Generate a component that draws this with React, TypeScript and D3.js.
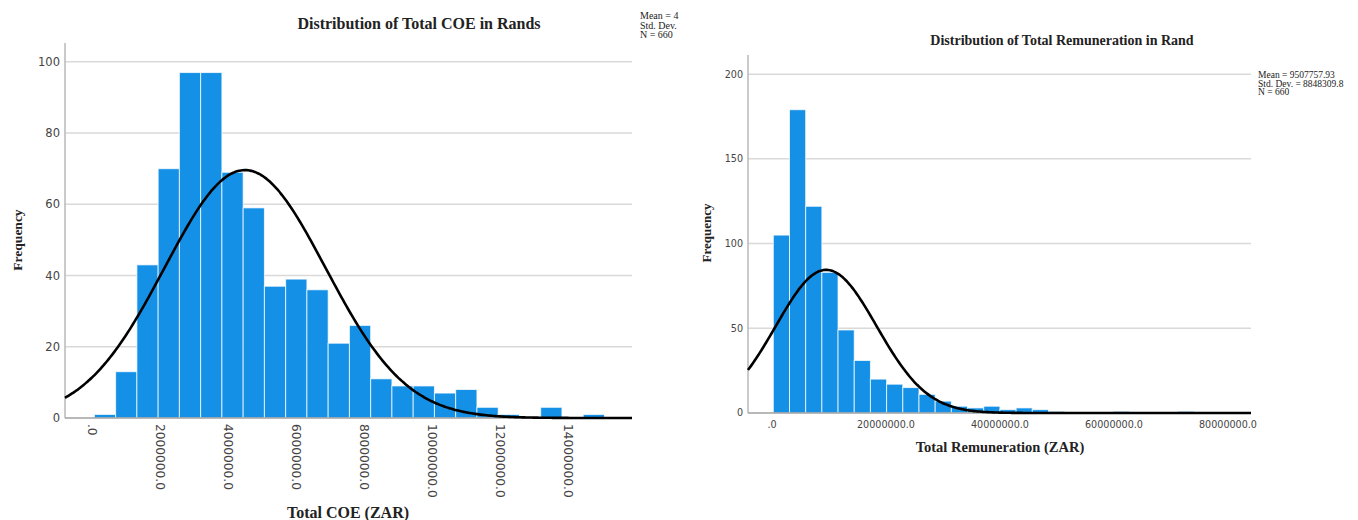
import React, { useEffect, useRef } from 'react';
import * as d3 from 'd3';

// Total COE histogram (SPSS style)
const coeCounts = [1, 13, 43, 70, 97, 97, 69, 59, 37, 39, 36, 21, 26, 11, 9, 9, 7, 8, 3, 1, 0, 3, 0, 1];
const coeBinStart = 70000;
const coeBinWidth = 625000;
const coeMean = 4500000;
const coeStd = 2364000;
const coeXTicks = [0, 2000000, 4000000, 6000000, 8000000, 10000000, 12000000, 14000000];
const coeYTicks = [0, 20, 40, 60, 80, 100];
const coeLegend = ['Mean = 4', 'Std. Dev.', 'N = 660'];

// Total Remuneration histogram
const remCounts = [105, 179, 122, 83, 49, 31, 20, 17, 15, 11, 7, 4, 3, 4, 2, 3, 2, 1, 0, 0, 0, 1, 0, 0, 0, 1];
const remBinStart = 230000;
const remBinWidth = 2840000;
const remMean = 9507757.93;
const remStd = 8848309.8;
const remXTicks = [0, 20000000, 40000000, 60000000, 80000000];
const remYTicks = [0, 50, 100, 150, 200];
const remLegend = ['Mean = 9507757.93', 'Std. Dev. = 8848309.8', 'N = 660'];

const N = 660;

const BAR = '#1490e6';
const SERIF = '"Liberation Serif", "Times New Roman", serif';
const SANS = '"DejaVu Sans", sans-serif';

interface HistParams {
  svg: d3.Selection<SVGSVGElement, unknown, null, undefined>;
  counts: number[];
  binStart: number;
  binWidth: number;
  mean: number;
  std: number;
  xTicks: number[];
  yTicks: number[];
  legend: string[];
  title: string;
  xLabel: string;
  xDomain: [number, number];
  yDomain: [number, number];
  left: number;
  right: number;
  top: number;
  bottom: number;
  rotateTicks: boolean;
  tickSize: number;
  xTickSize: number;
  titleX: number;
  titleY: number;
  titleSize: number;
  xLabelX: number;
  xLabelY: number;
  xLabelSize: number;
  yLabelX: number;
  yLabelY: number;
  yLabelSize: number;
  legendX: number;
  legendY: number;
  legendSize: number;
  legendStep: number;
}

const fmt = (v: number) => (v === 0 ? '.0' : `${v}.0`);

const drawHistogram = (p: HistParams) => {
  const g = p.svg.append('g');

  const x = d3.scaleLinear().domain(p.xDomain).range([p.left, p.right]);
  const y = d3.scaleLinear().domain(p.yDomain).range([p.bottom, p.top]);

  // grid lines
  g.append('g')
    .selectAll('line')
    .data(p.yTicks.filter(t => t > 0))
    .enter()
    .append('line')
    .attr('x1', p.left)
    .attr('x2', p.right)
    .attr('y1', d => y(d))
    .attr('y2', d => y(d))
    .attr('stroke', '#d9d9d9')
    .attr('stroke-width', 1.5);

  // bars
  g.append('g')
    .selectAll('rect')
    .data(p.counts.map((c, i) => ({ c, x0: p.binStart + i * p.binWidth })).filter(d => d.c > 0))
    .enter()
    .append('rect')
    .attr('x', d => x(d.x0))
    .attr('width', d => x(d.x0 + p.binWidth) - x(d.x0))
    .attr('y', d => y(d.c))
    .attr('height', d => y(0) - y(d.c))
    .attr('fill', BAR)
    .attr('stroke', '#ffffff')
    .attr('stroke-opacity', 0.75)
    .attr('stroke-width', 1);

  // axes lines
  g.append('line')
    .attr('x1', p.left).attr('x2', p.left)
    .attr('y1', p.top).attr('y2', p.bottom)
    .attr('stroke', '#b8b8b8').attr('stroke-width', 1.5);
  g.append('line')
    .attr('x1', p.left).attr('x2', p.right)
    .attr('y1', p.bottom).attr('y2', p.bottom)
    .attr('stroke', '#a0a0a0').attr('stroke-width', 1.5);

  // normal curve
  const scale = N * p.binWidth / (p.std * Math.sqrt(2 * Math.PI));
  const pts = d3.range(0, 301).map(i => {
    const v = p.xDomain[0] + (p.xDomain[1] - p.xDomain[0]) * i / 300;
    const z = (v - p.mean) / p.std;
    return [v, scale * Math.exp(-0.5 * z * z)] as [number, number];
  });
  g.append('path')
    .datum(pts)
    .attr('fill', 'none')
    .attr('stroke', '#000')
    .attr('stroke-width', 2.6)
    .attr('d', d3.line<[number, number]>().x(d => x(d[0])).y(d => y(d[1])).curve(d3.curveBasis));

  // y tick labels
  g.append('g')
    .selectAll('text')
    .data(p.yTicks)
    .enter()
    .append('text')
    .attr('x', p.left - 5)
    .attr('y', d => y(d))
    .attr('dy', '0.35em')
    .attr('text-anchor', 'end')
    .attr('font-family', SANS)
    .attr('font-size', p.tickSize)
    .attr('fill', '#444')
    .text(d => d);

  // x tick labels
  const xt = g.append('g')
    .selectAll('text')
    .data(p.xTicks)
    .enter()
    .append('text')
    .attr('font-family', SANS)
    .attr('font-size', p.xTickSize)
    .attr('fill', '#444')
    .text(d => fmt(d));
  if (p.rotateTicks) {
    xt.attr('transform', d => `translate(${x(d)}, ${p.bottom + 6}) rotate(90)`)
      .attr('dy', '0.35em')
      .attr('text-anchor', 'start');
  } else {
    xt.attr('x', d => x(d))
      .attr('y', p.bottom + 15)
      .attr('text-anchor', 'middle');
  }

  // titles
  g.append('text')
    .attr('x', p.titleX).attr('y', p.titleY)
    .attr('text-anchor', 'middle')
    .attr('font-family', SERIF).attr('font-weight', 'bold')
    .attr('font-size', p.titleSize).attr('fill', '#222')
    .text(p.title);

  g.append('text')
    .attr('x', p.xLabelX).attr('y', p.xLabelY)
    .attr('text-anchor', 'middle')
    .attr('font-family', SERIF).attr('font-weight', 'bold')
    .attr('font-size', p.xLabelSize).attr('fill', '#222')
    .text(p.xLabel);

  g.append('text')
    .attr('transform', `translate(${p.yLabelX}, ${p.yLabelY}) rotate(-90)`)
    .attr('text-anchor', 'middle')
    .attr('font-family', SERIF).attr('font-weight', 'bold')
    .attr('font-size', p.yLabelSize).attr('fill', '#222')
    .text('Frequency');

  // legend text (stats box)
  g.append('g')
    .selectAll('text')
    .data(p.legend)
    .enter()
    .append('text')
    .attr('x', p.legendX)
    .attr('y', (_, i) => p.legendY + i * p.legendStep)
    .attr('font-family', SERIF)
    .attr('font-size', p.legendSize)
    .attr('fill', '#222')
    .text(d => d);
};

export default function App() {
  const svgRef = useRef<SVGSVGElement>(null);

  useEffect(() => {
    if (!svgRef.current) return;
    const svg = d3.select(svgRef.current);
    svg.selectAll('*').remove();

    drawHistogram({
      svg,
      counts: coeCounts,
      binStart: coeBinStart,
      binWidth: coeBinWidth,
      mean: coeMean,
      std: coeStd,
      xTicks: coeXTicks,
      yTicks: coeYTicks,
      legend: coeLegend,
      title: 'Distribution of Total COE in Rands',
      xLabel: 'Total COE (ZAR)',
      xDomain: [-794000, 15880000],
      yDomain: [0, 105.3],
      left: 65,
      right: 632,
      top: 43,
      bottom: 418,
      rotateTicks: true,
      tickSize: 11.5,
      xTickSize: 12.2,
      titleX: 419,
      titleY: 29,
      titleSize: 16,
      xLabelX: 348,
      xLabelY: 518,
      xLabelSize: 16,
      yLabelX: 22,
      yLabelY: 240,
      yLabelSize: 13.5,
      legendX: 640,
      legendY: 19,
      legendStep: 9.5,
      legendSize: 10
    });

    drawHistogram({
      svg,
      counts: remCounts,
      binStart: remBinStart,
      binWidth: remBinWidth,
      mean: remMean,
      std: remStd,
      xTicks: remXTicks,
      yTicks: remYTicks,
      legend: remLegend,
      title: 'Distribution of Total Remuneration in Rand',
      xLabel: 'Total Remuneration (ZAR)',
      xDomain: [-4210000, 84040000],
      yDomain: [0, 211.3],
      left: 748,
      right: 1251,
      top: 55,
      bottom: 413,
      rotateTicks: false,
      tickSize: 9.6,
      xTickSize: 9.6,
      titleX: 1062,
      titleY: 45,
      titleSize: 14,
      xLabelX: 1000,
      xLabelY: 452,
      xLabelSize: 14.5,
      yLabelX: 711,
      yLabelY: 233,
      yLabelSize: 13,
      legendX: 1258,
      legendY: 78,
      legendStep: 8.5,
      legendSize: 9.5
    });
  }, []);

  return (
    <div style={{ position: 'absolute', left: 0, top: 0, background: '#fff' }}>
      <svg ref={svgRef} width={1358} height={520} />
    </div>
  );
}
